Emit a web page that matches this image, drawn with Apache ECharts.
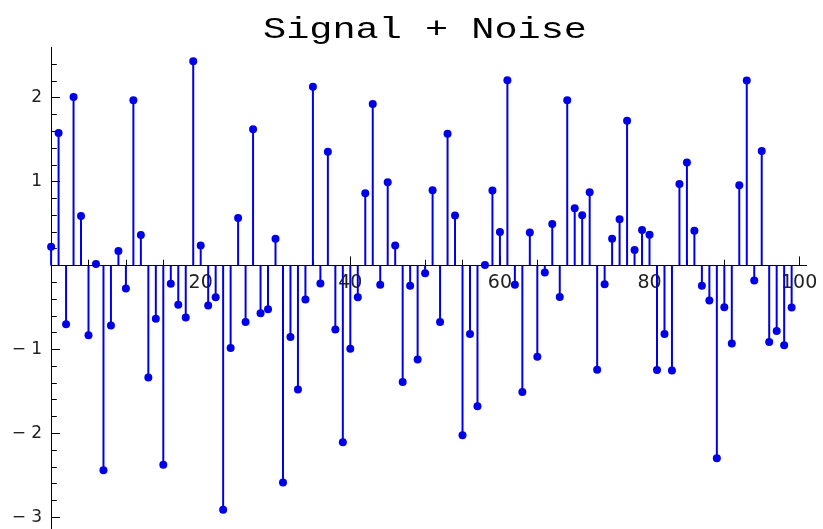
<!DOCTYPE html>
<html>
<head>
<meta charset="utf-8">
<script src="https://cdn.jsdelivr.net/npm/echarts@6/dist/echarts.min.js"></script>
<style>html,body{margin:0;padding:0;background:#fff;}#c{width:823px;height:529px;}</style>
</head>
<body>
<div id="c"></div>
<script>
const titleText = 'Signal + Noise';
const xValues = [];
for (let i = 0; i < 100; i++) xValues.push(i);
const signalNoise = [
  0.223, 1.578, -0.701, 2.008, 0.590, -0.833, 0.016, -2.442, -0.717, 0.171,
  -0.275, 1.968, 0.363, -1.335, -0.637, -2.375, -0.219, -0.470, -0.622, 2.434,
  0.239, -0.478, -0.378, -2.912, -0.984, 0.566, -0.673, 1.622, -0.570, -0.522,
  0.319, -2.586, -0.853, -1.478, -0.406, 2.131, -0.215, 1.355, -0.765, -2.108,
  -0.992, -0.378, 0.861, 1.924, -0.231, 0.992, 0.239, -1.390, -0.243, -1.120,
  -0.092, 0.896, -0.673, 1.570, 0.594, -2.024, -0.817, -1.677, 0.004, 0.892,
  0.398, 2.207, -0.231, -1.510, 0.394, -1.088, -0.084, 0.494, -0.375, 1.968,
  0.681, 0.598, 0.873, -1.243, -0.223, 0.319, 0.550, 1.725, 0.183, 0.422,
  0.367, -1.247, -0.817, -1.251, 0.972, 1.227, 0.414, -0.243, -0.418, -2.299,
  -0.498, -0.932, 0.956, 2.203, -0.179, 1.363, -0.912, -0.781, -0.952, -0.502
];
const xMajorTicks = [20, 40, 60, 80, 100];
const xMajorLabels = ['20', '40', '60', '80', '100'];
const xMinorTicks = [5, 10, 15, 25, 30, 35, 45, 50, 55, 65, 70, 75, 85, 90, 95];
const yMajorTicks = [-3, -2, -1, 0, 1, 2];
const yLabelValues = [-3, -2, -1, 1, 2];
const yLabelTexts = ['\u2212 3', '\u2212 2', '\u2212 1', '1', '2'];
const yMinorTicks = [-2.8, -2.6, -2.4, -2.2, -1.8, -1.6, -1.4, -1.2, -0.8, -0.6, -0.4, -0.2,
  0.2, 0.4, 0.6, 0.8, 1.2, 1.4, 1.6, 1.8, 2.2, 2.4];

const points = xValues.map((x, i) => [x, signalNoise[i]]);
const stemColor = '#0000e8';
const labelFont = 'DejaVu Sans';
const X_MIN = 0, X_MAX = 101, Y_MIN = -3.2, Y_MAX = 2.6;

const chart = echarts.init(document.getElementById('c'), null, { renderer: 'canvas' });
const noSplit = { show: false };
chart.setOption({
  animation: false,
  backgroundColor: '#fff',
  graphic: [{
    type: 'text', x: 425, y: 30, scaleX: 1.33,
    style: { text: titleText, fontSize: 29, fontFamily: 'Liberation Mono', fill: '#000', align: 'center', verticalAlign: 'middle' }
  }],
  grid: [
    { left: 51.1, top: 47.3, width: 755.5, height: 486.6, containLabel: false, outerBoundsMode: 'none' },
    // label-only grid whose bottom edge sits on the zero line
    { left: 51.1, top: 47.3, width: 755.5, height: 218.4, containLabel: false, outerBoundsMode: 'none' }
  ],
  xAxis: [
    { type: 'value', gridIndex: 0, min: X_MIN, max: X_MAX, position: 'bottom', splitLine: noSplit,
      axisLine: { show: true, onZero: true, lineStyle: { color: '#000', width: 1 } },
      axisTick: { show: true, inside: true, length: 9, customValues: xMajorTicks, lineStyle: { color: '#000', width: 1 } },
      axisLabel: { show: false } },
    { type: 'value', gridIndex: 0, min: X_MIN, max: X_MAX, position: 'bottom', splitLine: noSplit,
      axisLine: { show: false, onZero: true },
      axisTick: { show: true, inside: true, length: 5.7, customValues: xMinorTicks, lineStyle: { color: '#000', width: 1 } },
      axisLabel: { show: false } },
    { type: 'value', gridIndex: 1, min: X_MIN, max: X_MAX, position: 'bottom', splitLine: noSplit,
      axisLine: { show: false, onZero: false },
      axisTick: { show: false },
      axisLabel: { show: true, margin: 8, customValues: xMajorTicks, fontSize: 19, fontFamily: labelFont, color: '#222',
        formatter: v => xMajorLabels[xMajorTicks.indexOf(v)] } }
  ],
  yAxis: [
    { type: 'value', gridIndex: 0, min: Y_MIN, max: Y_MAX, position: 'left', splitLine: noSplit,
      axisLine: { show: true, onZero: false, lineStyle: { color: '#000', width: 1 } },
      axisTick: { show: true, inside: true, length: 9, customValues: yMajorTicks, lineStyle: { color: '#000', width: 1 } },
      axisLabel: { show: true, margin: 9, customValues: yLabelValues, fontSize: 17, fontFamily: labelFont, color: '#222',
        formatter: v => yLabelTexts[yLabelValues.indexOf(v)] } },
    { type: 'value', gridIndex: 0, min: Y_MIN, max: Y_MAX, position: 'left', splitLine: noSplit,
      axisLine: { show: false, onZero: false },
      axisTick: { show: true, inside: true, length: 5.7, customValues: yMinorTicks, lineStyle: { color: '#000', width: 1 } },
      axisLabel: { show: false } },
    { type: 'value', gridIndex: 1, min: 0, max: Y_MAX, position: 'left', splitLine: noSplit,
      axisLine: { show: false, onZero: false }, axisTick: { show: false }, axisLabel: { show: false } }
  ],
  series: [
    {
      type: 'bar', xAxisIndex: 0, yAxisIndex: 0, data: points, barWidth: 2,
      itemStyle: { color: stemColor }, z: 2
    },
    {
      type: 'scatter', xAxisIndex: 0, yAxisIndex: 0, data: points, symbol: 'circle', symbolSize: 8,
      itemStyle: { color: stemColor, opacity: 1 }, z: 3
    }
  ]
});
</script>
</body>
</html>
